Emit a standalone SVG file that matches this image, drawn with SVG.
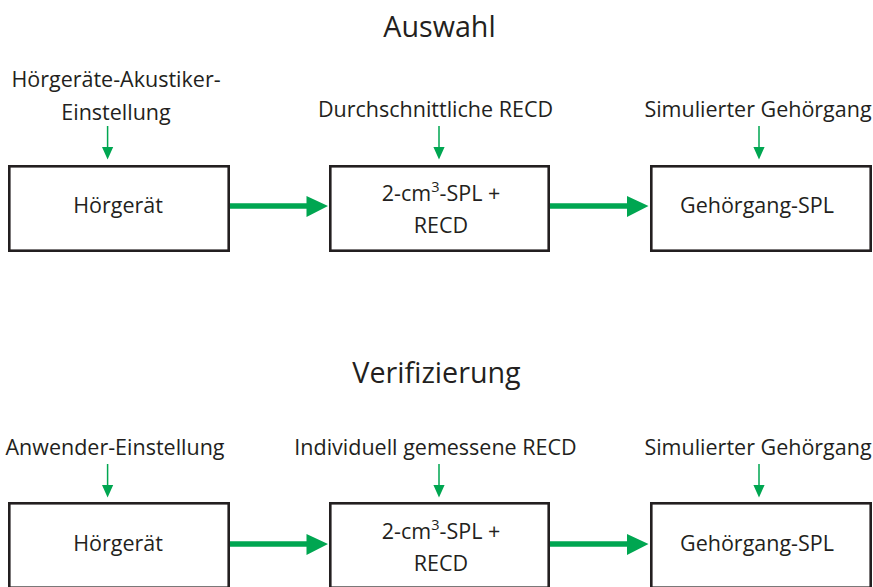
<svg xmlns="http://www.w3.org/2000/svg" width="873" height="587" viewBox="0 0 873 587">
<style>
text{font-family:"Open Sans","Liberation Sans",sans-serif;fill:#231f20;text-anchor:middle}
.t{font-size:28.7px}
.l{font-size:21.5px}
.box{fill:#fff;stroke:#231f20;stroke-width:2.6}
.thin{stroke:#00a651;stroke-width:1.5;fill:none}
.thick{stroke:#00a651;stroke-width:5.5;fill:none}
.head{fill:#00a651}
</style>
<rect width="873" height="587" fill="#fff"/>
<text class="t" x="439.5" y="37">Auswahl</text>
<text class="t" x="436.5" y="383">Verifizierung</text>

<g id="labels-top">
<text class="l" x="116" y="87">Hörgeräte-Akustiker-</text>
<text class="l" x="116" y="120">Einstellung</text>
<text class="l" x="435.5" y="117">Durchschnittliche RECD</text>
<text class="l" x="758" y="117">Simulierter Gehörgang</text>
</g>
<g id="labels-bottom">
<text class="l" x="115" y="455">Anwender-Einstellung</text>
<text class="l" x="435.5" y="455">Individuell gemessene RECD</text>
<text class="l" x="758" y="455">Simulierter Gehörgang</text>
</g>

<g id="hg1"><rect class="box" x="9.3" y="166.3" width="219.4" height="84.4"/><text class="l" x="118" y="213">Hörgerät</text></g>
<g id="spl1"><rect class="box" x="330.3" y="166.3" width="218.4" height="84.4"/><text class="l" x="441" y="201">2-cm<tspan font-size="14.5" dy="-9">3</tspan><tspan dy="9">-SPL +</tspan></text><text class="l" x="441" y="233">RECD</text></g>
<g id="ear1"><rect class="box" x="651.3" y="166.3" width="219.4" height="84.4"/><text class="l" x="757" y="213">Gehörgang-SPL</text></g>

<g id="hg2"><rect class="box" x="9.3" y="503.3" width="219.4" height="84.4"/><text class="l" x="118" y="551">Hörgerät</text></g>
<g id="spl2"><rect class="box" x="330.3" y="503.3" width="218.4" height="84.4"/><text class="l" x="441" y="539">2-cm<tspan font-size="14.5" dy="-9">3</tspan><tspan dy="9">-SPL +</tspan></text><text class="l" x="441" y="571">RECD</text></g>
<g id="ear2"><rect class="box" x="651.3" y="503.3" width="219.4" height="84.4"/><text class="l" x="757" y="551">Gehörgang-SPL</text></g>

<g id="connectors">
<path class="thin" d="M107.6 126V148M439 126V148M759 126V148M107.6 464V486M439 464V486M759 464V486"/>
<path class="head" d="M102 147h11.2l-5.6 12.5zM433.4 147h11.2l-5.6 12.5zM753.4 147h11.2l-5.6 12.5zM102 485h11.2l-5.6 12.5zM433.4 485h11.2l-5.6 12.5zM753.4 485h11.2l-5.6 12.5z"/>
<path class="thick" d="M230 206H308M550 206H628M230 544H308M550 544H628"/>
<path class="head" d="M306.5 196L328 206L306.5 217zM627 196L648.5 206L627 217zM306.5 534L328 544L306.5 555zM627 534L648.5 544L627 555z"/>
</g>
</svg>
